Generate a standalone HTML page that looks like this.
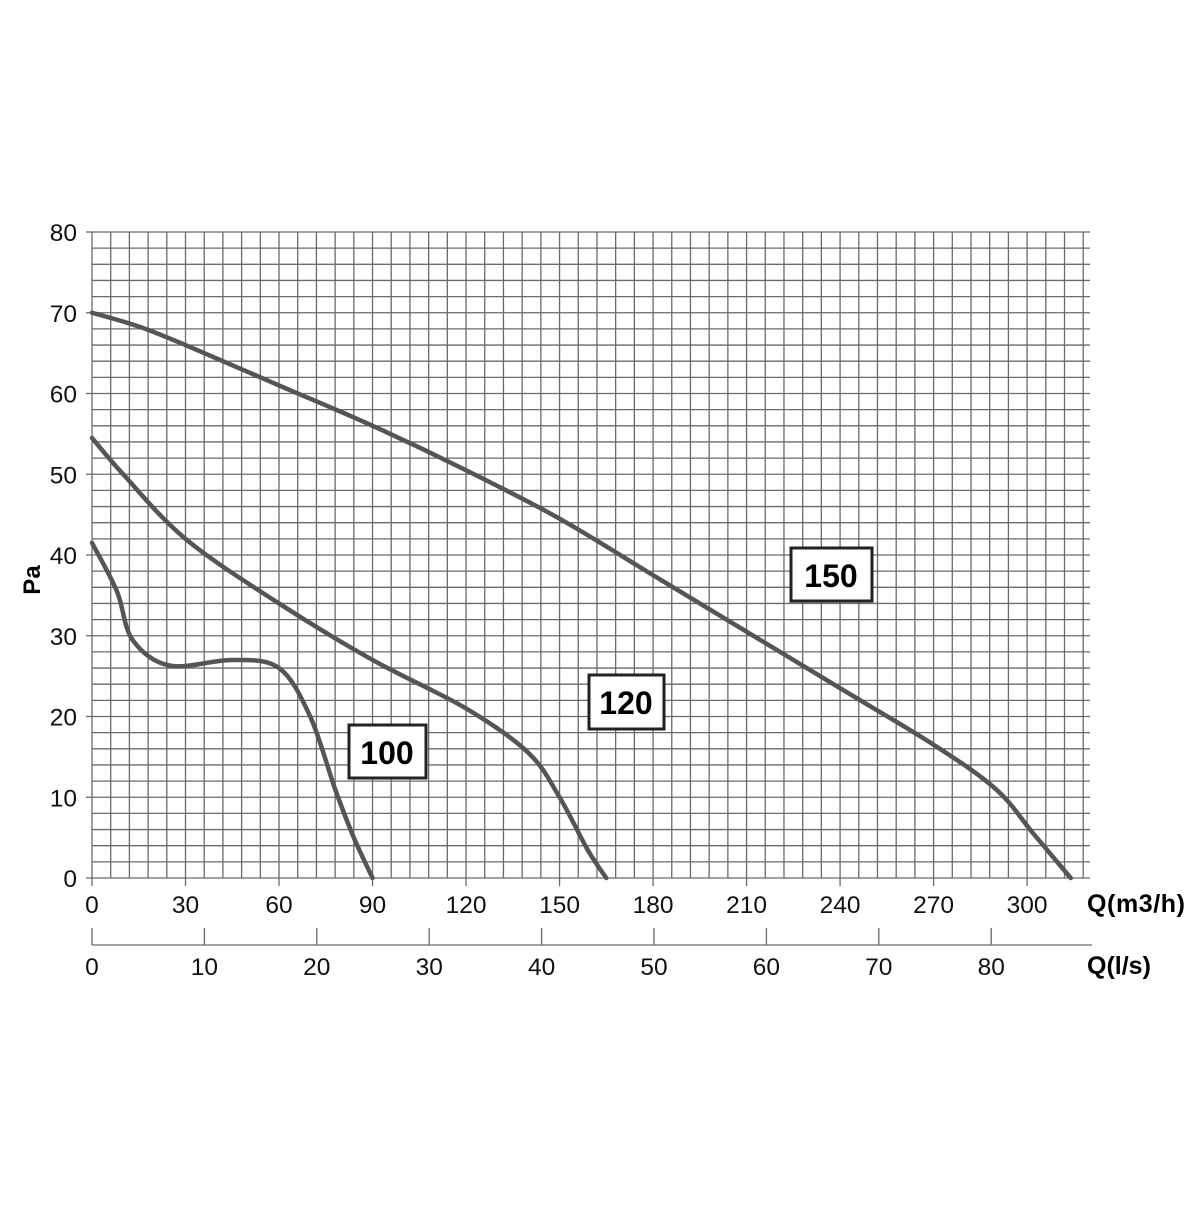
<!DOCTYPE html>
<html><head><style>
body{margin:0;background:#fff;width:1200px;height:1200px;overflow:hidden}
svg{font-family:"Liberation Sans",Arial,sans-serif}
</style></head><body>
<svg width="1200" height="1200" xmlns="http://www.w3.org/2000/svg">
<g id="grid" stroke="#6a6a6a" stroke-width="1.3"></g>
<g fill="#111" font-size="24.5" id="labels"></g>
<path id="c150" fill="none" stroke="#555" stroke-width="4.5" stroke-linecap="round"/>
<path id="c120" fill="none" stroke="#555" stroke-width="4.5" stroke-linecap="round"/>
<path id="c100" fill="none" stroke="#555" stroke-width="4.5" stroke-linecap="round"/>
<rect x="791" y="548" width="81" height="53" fill="#fff" stroke="#222" stroke-width="3"/>
<text x="831" y="587" text-anchor="middle" font-size="32" font-weight="bold">150</text>
<rect x="589" y="675" width="75" height="54" fill="#fff" stroke="#222" stroke-width="3"/>
<text x="626" y="714" text-anchor="middle" font-size="32" font-weight="bold">120</text>
<rect x="349" y="725" width="77" height="53" fill="#fff" stroke="#222" stroke-width="3"/>
<text x="387" y="764" text-anchor="middle" font-size="32" font-weight="bold">100</text>
<text x="40" y="580" transform="rotate(-90 40 580)" text-anchor="middle" font-size="24" font-weight="bold">Pa</text>
<text x="1087" y="912" font-size="25" font-weight="bold" textLength="98">Q(m3/h)</text>
<text x="1087" y="974" font-size="25" font-weight="bold">Q(l/s)</text>
</svg>
<script>
const ns="http://www.w3.org/2000/svg";
const X=q=>92+q*3.117, Y=p=>878-p*8.075;
const g=document.getElementById('grid'), L=document.getElementById('labels');
function line(x1,y1,x2,y2,c){const l=document.createElementNS(ns,'line');l.setAttribute('x1',x1);l.setAttribute('y1',y1);l.setAttribute('x2',x2);l.setAttribute('y2',y2);if(c)l.setAttribute('stroke',c);g.appendChild(l);}
function txt(x,y,s,a){const t=document.createElementNS(ns,'text');t.setAttribute('x',x);t.setAttribute('y',y);t.setAttribute('text-anchor',a);t.textContent=s;L.appendChild(t);}
for(let p=0;p<=80;p+=2){line(92,Y(p),1090,Y(p));}
for(let q=0;q<=320;q+=6){line(X(q),232,X(q),878);}
for(let p=0;p<=80;p+=10){line(86,Y(p),92,Y(p));txt(77,Y(p)+9,p,'end');}
for(let q=0;q<=300;q+=30){line(X(q),878,X(q),886);txt(X(q),913,q,'middle');}
line(92,945,1092,945);
for(let s=0;s<=80;s+=10){const x=92+s*11.24;line(x,928,x,945);txt(x,975,s,'middle');}
function curve(id,pts){
  const P=pts.map(([q,p])=>[X(q),Y(p)]);
  let d='M'+P[0].join(',');
  for(let i=0;i<P.length-1;i++){
    const p0=P[i-1]||P[i],p1=P[i],p2=P[i+1],p3=P[i+2]||p2;
    const c1=[p1[0]+(p2[0]-p0[0])/6,p1[1]+(p2[1]-p0[1])/6];
    const c2=[p2[0]-(p3[0]-p1[0])/6,p2[1]-(p3[1]-p1[1])/6];
    d+=' C'+c1.join(',')+' '+c2.join(',')+' '+p2.join(',');
  }
  document.getElementById(id).setAttribute('d',d);
}
curve('c150',[[0,70],[15,68.3],[30,66],[60,61],[90,56],[120,50.5],[150,44.5],[180,37.5],[210,30.5],[240,23.5],[270,16.5],[290,11],[302,5.5],[314,0]]);
curve('c120',[[0,54.5],[10,50],[30,42],[60,34],[90,27],[120,21],[140,15.5],[150,10],[159,3.5],[165,0]]);
curve('c100',[[0,41.5],[8,35.5],[13,29.5],[25,26.3],[45,27],[60,26],[70,20],[78,11],[84,5],[90,0]]);
</script>
</body></html>
